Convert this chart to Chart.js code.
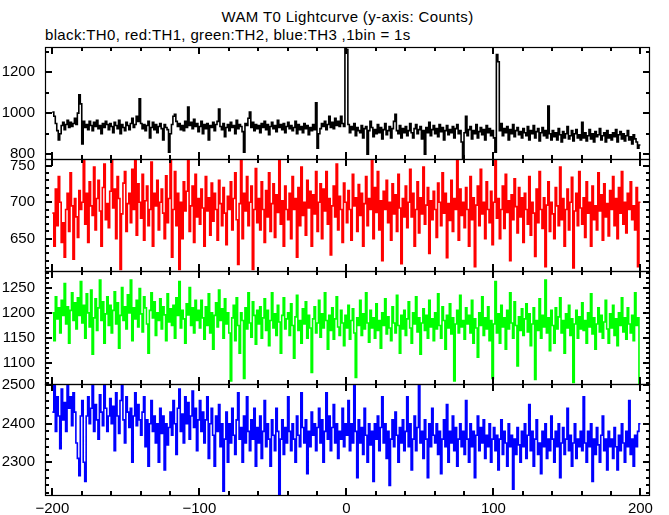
<!DOCTYPE html>
<html><head><meta charset="utf-8">
<script src="https://cdn.jsdelivr.net/npm/chart.js@4.4.1/dist/chart.umd.min.js"></script>
<style>
html,body{margin:0;padding:0;background:#fff;}
#wrap{position:relative;width:669px;height:515px;background:#fff;overflow:hidden;font-family:"Liberation Sans",Arial,sans-serif;}
canvas{position:absolute;left:0;}
.t{position:absolute;white-space:nowrap;color:#000;font-size:15px;line-height:17px;letter-spacing:0.35px;}
</style></head><body>
<div id="wrap">
<div class="t" style="left:45px;width:605px;text-align:center;top:8px;">WAM T0 Lightcurve (y-axis: Counts)</div>
<div class="t" style="left:45px;top:26px;">black:TH0, red:TH1, green:TH2, blue:TH3 ,1bin = 1s</div>
<canvas id="c0"></canvas><canvas id="c1"></canvas><canvas id="c2"></canvas><canvas id="c3"></canvas>
</div>
<script>
// ---- data (1 s bins starting at -200 s) ----
const binStart = -200;
const binWidth = 1;

const th0 = [
1005,985,950,915,870,900,940,955,920,945,965,930,955,935,950,975,945,1000,1090,1045,
850,960,930,945,920,960,940,915,955,935,965,925,940,900,950,930,960,945,920,950,
935,905,955,940,925,965,900,945,930,915,955,940,920,950,975,930,945,985,960,1070,
950,925,945,915,940,960,880,930,955,920,945,905,935,950,925,870,945,930,920,810,
900,945,985,995,960,935,950,920,940,915,960,930,1030,940,955,925,970,935,950,910,
935,960,900,945,925,950,870,940,930,955,915,945,960,1020,935,920,950,885,930,945,
915,955,930,940,900,965,925,945,935,910,810,950,940,975,1005,930,955,915,945,925,
940,905,950,930,960,920,945,895,935,955,925,940,910,965,930,945,920,950,905,935,
955,925,940,915,930,960,900,945,920,935,905,950,925,940,895,930,915,945,920,1050,
830,900,925,950,935,960,920,945,985,930,955,925,975,940,960,935,985,950,935,1330,
1310,945,905,935,920,950,890,930,915,905,940,880,925,935,800,915,960,930,885,920,
900,945,905,930,875,920,950,895,915,935,880,925,960,995,915,900,940,880,925,905,
935,890,915,950,905,880,925,945,900,920,935,875,915,800,930,905,955,890,920,940,
900,925,885,945,910,930,870,915,940,895,920,905,935,880,925,945,900,915,860,780,
905,985,890,920,935,875,915,900,945,880,910,930,895,920,870,940,905,925,890,915,
880,810,1285,1250,915,950,890,925,905,935,870,920,900,945,885,915,930,895,910,880,
925,905,890,935,870,915,900,940,880,910,925,865,905,930,890,915,880,1035,900,870,
915,885,905,870,925,895,860,910,880,900,935,875,890,915,865,900,920,880,895,870,
955,880,905,865,890,920,875,900,860,910,885,895,925,870,890,905,860,915,880,895,
870,905,885,920,860,895,910,875,900,865,890,915,870,885,850,895,875,860,830,845
];

const th1 = [
685,640,718,668,735,700,645,672,625,690,712,660,740,695,622,705,680,652,716,690,
700,758,670,712,645,728,695,682,748,662,705,730,688,640,720,752,676,698,665,715,
760,692,718,650,735,705,608,684,726,742,660,698,712,672,745,690,760,655,725,700,
678,738,648,702,722,668,690,755,640,712,695,730,662,700,718,685,650,736,672,705,
760,625,690,742,668,712,608,700,650,728,688,715,760,660,695,722,645,738,680,705,
670,718,692,640,735,688,706,655,726,674,712,690,648,730,698,668,720,685,642,708,
690,728,662,705,740,676,615,698,760,650,712,688,735,668,700,722,608,690,746,672,
705,662,728,690,645,716,680,740,660,698,725,652,710,686,760,670,702,640,722,690,
676,712,650,735,690,705,625,720,668,748,682,700,655,730,692,715,640,710,684,742,
660,700,725,650,718,688,742,670,705,628,695,722,680,752,662,708,690,645,726,700,
672,716,690,648,738,695,706,660,724,682,712,640,698,735,668,705,690,758,650,720,
686,742,662,702,620,715,690,730,672,700,648,725,684,710,660,738,692,616,705,680,
722,665,700,745,680,712,640,690,728,658,706,684,748,670,696,720,630,702,676,715,
690,652,726,700,668,740,685,712,624,698,675,730,660,705,690,760,648,718,682,700,
665,720,690,640,735,676,706,612,696,722,668,745,684,700,650,728,690,672,715,642,
700,760,678,705,650,690,722,664,738,686,702,620,710,676,732,694,658,720,680,706,
645,712,690,670,735,655,700,685,626,718,672,742,690,664,706,612,696,728,660,700,
684,650,720,695,668,748,676,705,640,690,718,662,700,734,610,688,712,668,742,692,
670,706,652,728,685,700,640,722,676,695,662,740,688,710,648,725,680,698,654,716,
690,735,668,705,650,720,685,742,670,700,658,712,690,728,676,695,662,720,612,700
];

const th2 = [
1200,1145,1232,1188,1210,1160,1225,1195,1258,1178,1212,1140,1205,1240,1185,1220,1168,1230,1195,1262,
1180,1215,1150,1238,1200,1172,1245,1118,1190,1228,1165,1210,1265,1185,1222,1140,1198,1232,1175,1215,
1160,1205,1242,1178,1220,1130,1195,1250,1185,1212,1168,1236,1200,1265,1145,1210,1188,1225,1172,1248,
1198,1162,1232,1210,1178,1120,1205,1240,1190,1222,1155,1200,1185,1228,1168,1212,1196,1145,1238,1182,
1208,1175,1215,1150,1230,1195,1262,1170,1205,1188,1140,1218,1196,1250,1175,1210,1160,1225,1185,1205,
1170,1225,1190,1148,1212,1175,1238,1160,1200,1128,1195,1220,1172,1245,1185,1208,1150,1228,1178,1200,
1160,1065,1190,1215,1145,1230,1175,1120,1200,1185,1070,1210,1168,1240,1180,1152,1222,1195,1138,1205,
1178,1212,1150,1190,1228,1165,1205,1135,1185,1240,1170,1198,1155,1215,1182,1120,1195,1230,1168,1188,
1200,1155,1218,1175,1110,1192,1235,1165,1185,1140,1208,1178,1222,1150,1195,1170,1082,1188,1212,1160,
1180,1225,1152,1198,1170,1240,1185,1128,1195,1165,1210,1148,1188,1232,1172,1155,1205,1180,1135,1195,
1170,1215,1148,1185,1208,1160,1072,1190,1175,1225,1155,1198,1168,1240,1180,1142,1205,1170,1190,1150,
1218,1165,1185,1130,1200,1175,1228,1158,1192,1170,1145,1212,1180,1160,1235,1175,1120,1195,1168,1205,
1155,1188,1222,1170,1140,1200,1178,1232,1162,1190,1118,1180,1208,1165,1195,1150,1225,1172,1188,1145,
1200,1168,1238,1175,1150,1212,1185,1128,1195,1170,1218,1158,1190,1065,1178,1205,1160,1235,1172,1185,
1148,1210,1178,1195,1160,1225,1140,1188,1170,1112,1200,1175,1232,1155,1190,1168,1212,1145,1185,1070,
1178,1262,1160,1198,1140,1215,1172,1190,1128,1205,1168,1240,1180,1150,1222,1175,1095,1192,1165,1208,
1155,1188,1218,1162,1198,1135,1178,1210,1068,1185,1165,1228,1150,1195,1172,1265,1160,1190,1125,1205,
1175,1140,1210,1168,1192,1230,1160,1185,1120,1198,1170,1215,1155,1188,1062,1178,1205,1150,1192,1168,
1220,1165,1185,1140,1200,1172,1238,1158,1190,1128,1178,1210,1162,1195,1150,1182,1225,1168,1140,1198,
1170,1215,1155,1188,1135,1200,1175,1230,1162,1190,1148,1210,1178,1160,1195,1145,1240,1175,1190,1060
];

const th3 = [
2430,2500,2380,2470,2420,2335,2490,2410,2455,2380,2500,2440,2470,2395,2480,2430,2350,2310,2265,2420,
2460,2300,2250,2420,2470,2400,2440,2500,2380,2450,2410,2360,2475,2430,2395,2505,2440,2380,2420,2465,
2400,2445,2330,2480,2420,2375,2460,2500,2410,2350,2470,2430,2390,2440,2300,2420,2480,2395,2450,2410,
2370,2430,2470,2340,2410,2290,2400,2460,2380,2420,2350,2400,2300,2440,2375,2420,2280,2400,2345,2390,
2430,2370,2460,2400,2320,2440,2490,2380,2425,2350,2470,2400,2455,2360,2420,2485,2390,2440,2330,2410,
2460,2380,2430,2350,2410,2470,2310,2400,2440,2370,2290,2420,2380,2450,2340,2400,2225,2360,2430,2300,
2400,2350,2440,2370,2320,2410,2480,2360,2390,2300,2420,2350,2470,2380,2330,2410,2360,2440,2290,2390,
2350,2420,2310,2380,2460,2340,2400,2360,2290,2410,2370,2330,2440,2380,2215,2360,2410,2320,2390,2350,
2470,2380,2330,2400,2360,2300,2420,2370,2340,2480,2390,2350,2410,2270,2380,2340,2430,2370,2400,2330,
2390,2440,2350,2410,2300,2380,2480,2360,2420,2330,2390,2450,2350,2400,2310,2380,2360,2440,2340,2400,
2370,2460,2330,2400,2350,2500,2380,2260,2410,2350,2390,2320,2440,2370,2300,2400,2345,2380,2250,2400,
2360,2420,2330,2390,2470,2350,2400,2310,2380,2240,2360,2410,2340,2430,2370,2300,2390,2350,2410,2330,
2380,2470,2340,2400,2280,2360,2420,2330,2390,2500,2350,2380,2310,2410,2360,2260,2400,2340,2440,2370,
2350,2400,2320,2380,2270,2360,2410,2340,2450,2300,2380,2350,2420,2330,2390,2290,2360,2400,2340,2380,
2320,2460,2360,2300,2400,2340,2380,2260,2370,2420,2330,2390,2350,2410,2310,2370,2340,2400,2300,2360,
2390,2330,2370,2280,2360,2410,2320,2380,2350,2290,2400,2340,2370,2230,2360,2320,2390,2345,2300,2380,
2340,2400,2310,2370,2450,2330,2380,2290,2360,2410,2320,2350,2270,2380,2340,2400,2310,2360,2330,2420,
2360,2300,2380,2340,2400,2260,2350,2390,2320,2360,2440,2330,2370,2290,2350,2400,2310,2360,2340,2380,
2330,2470,2350,2300,2380,2340,2400,2250,2360,2320,2390,2345,2300,2370,2420,2330,2360,2280,2380,2340,
2360,2310,2390,2340,2280,2370,2330,2400,2350,2300,2380,2340,2460,2320,2360,2290,2370,2340,2380,2400
];

// ---- axis tick values ----
const xTickLabels = [-200, -100, 0, 100, 200];
const xMinorStep = 20;
const th0TickLabels = [800, 1000, 1200];
const th1TickLabels = [650, 700, 750];
const th2TickLabels = [1100, 1150, 1200, 1250];
const th3TickLabels = [2300, 2400, 2500];

// ---- layout / style config ----
const panels = [
  {id:'c0', data:th0, color:'#000000', yMin:777,  yMax:1322, labels:th0TickLabels, minorStep:100},
  {id:'c1', data:th1, color:'#ff0000', yMin:606,  yMax:759,  labels:th1TickLabels, minorStep:10},
  {id:'c2', data:th2, color:'#00ff00', yMin:1059, yMax:1283, labels:th2TickLabels, minorStep:10},
  {id:'c3', data:th3, color:'#0000ff', yMin:2215, yMax:2503, labels:th3TickLabels, minorStep:20}
];
const panelTops = [47, 159, 271, 384];
const panelBottom = 495;
const xMin = -205, xMax = 206.5;
const FONT = {family:'"Liberation Sans", Arial, sans-serif', size:15};

function fmt(v){ return v < 0 ? '\u2212' + Math.abs(v) : String(v); }

function toPoints(arr){
  const pts = arr.map((v,i)=>({x: binStart + i*binWidth, y: v}));
  pts.push({x: binStart + arr.length*binWidth, y: arr[arr.length-1]});
  return pts;
}

const framePlugin = {
  id:'frame',
  afterDraw(chart){
    const {ctx, chartArea:a, scales} = chart;
    const cfg = chart.options.plugins.frame;
    ctx.save();
    ctx.strokeStyle = '#000';
    ctx.lineWidth = 1.2;
    ctx.strokeRect(a.left+0.5, a.top+0.5, a.right-a.left-1, a.bottom-a.top);
    ctx.lineWidth = 2;
    ctx.beginPath();
    const xs = scales.x;
    for (let v = xTickLabels[0]; v <= xTickLabels[xTickLabels.length-1]; v += xMinorStep){
      const px = Math.round(xs.getPixelForValue(v));
      const L = xTickLabels.includes(v) ? 7 : 4;
      ctx.moveTo(px, a.top); ctx.lineTo(px, a.top+L);
      ctx.moveTo(px, a.bottom); ctx.lineTo(px, a.bottom-L);
    }
    const ys = scales.y;
    const start = Math.ceil(cfg.yMin / cfg.minorStep) * cfg.minorStep;
    for (let v = start; v <= cfg.yMax; v += cfg.minorStep){
      const py = Math.round(ys.getPixelForValue(v));
      const L = cfg.labels.includes(v) ? 7 : 4;
      ctx.moveTo(a.left, py); ctx.lineTo(a.left+L, py);
      ctx.moveTo(a.right, py); ctx.lineTo(a.right-L, py);
    }
    ctx.stroke();
    ctx.restore();
  }
};

panels.forEach((p, k) => {
  const last = k === panels.length - 1;
  const top = panelTops[k];
  const bottom = k < panels.length - 1 ? panelTops[k+1] : panelBottom;
  const cv = document.getElementById(p.id);
  const h = (bottom - top) + 10 + (last ? 20 : 10);
  cv.width = 669; cv.height = h;
  cv.style.top = (top - 10) + 'px';
  cv.style.width = '669px'; cv.style.height = h + 'px';
  new Chart(cv, {
    type:'line',
    data:{datasets:[{
      data: toPoints(p.data),
      borderColor: p.color,
      borderWidth: 1.6,
      pointRadius: 0,
      stepped: true,
      fill: false,
      tension: 0
    }]},
    options:{
      responsive:false, maintainAspectRatio:false, animation:false, devicePixelRatio:1,
      parsing:false,
      layout:{padding:{left:0, right:19, top:10, bottom: last ? 0 : 10}},
      plugins:{legend:{display:false}, tooltip:{enabled:false}, title:{display:false},
        frame:{yMin:p.yMin, yMax:p.yMax, labels:p.labels, minorStep:p.minorStep}},
      scales:{
        x:{type:'linear', min:xMin, max:xMax, display: last,
           grid:{display:false, drawTicks:false}, border:{display:false},
           ticks:{font:FONT, color:'#000', padding:5, maxRotation:0, autoSkip:false, callback:(v)=>fmt(v)},
           afterBuildTicks:(s)=>{ s.ticks = xTickLabels.map(v=>({value:v})); },
           afterFit:(s)=>{ s.height = last ? 20 : 0; s.paddingLeft = 0; s.paddingRight = 0; }},
        y:{type:'linear', min:p.yMin, max:p.yMax,
           grid:{display:false, drawTicks:false}, border:{display:false},
           ticks:{font:FONT, color:'#000', padding:10, autoSkip:false, callback:(v)=>String(v)},
           afterBuildTicks:(s)=>{ s.ticks = p.labels.map(v=>({value:v})); },
           afterFit:(s)=>{ s.width = 45; s.paddingTop = 0; s.paddingBottom = 0; }}
      }
    },
    plugins:[framePlugin]
  });
});
</script>
</body></html>
